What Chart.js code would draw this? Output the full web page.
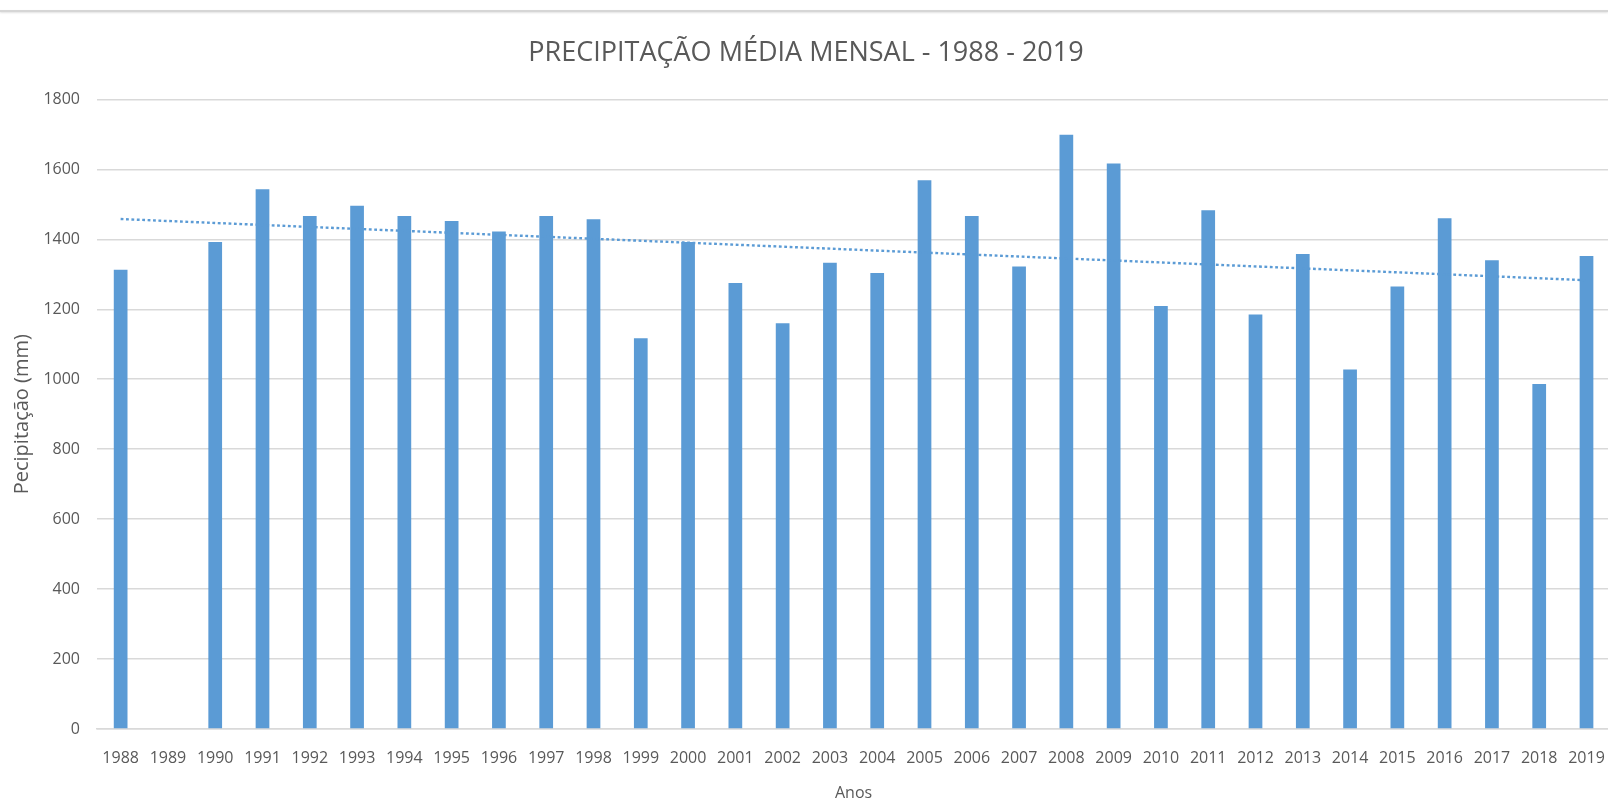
<!DOCTYPE html>
<html>
<head>
<meta charset="utf-8">
<script src="https://cdn.jsdelivr.net/npm/chart.js@4"></script>
<style>
  html, body { margin: 0; padding: 0; background: #ffffff; overflow: hidden; width: 1608px; height: 801px; }
  #wrap { position: absolute; left: 0; top: 0; width: 1625px; height: 801px; }
  #topline { position: absolute; left: 0; top: 10px; width: 1608px; height: 2px; background: #d6d6d6; box-shadow: 0 1px 2px rgba(0,0,0,0.12); z-index: 2; }
</style>
</head>
<body>
<div id="topline"></div>
<div id="wrap"><canvas id="c" width="1625" height="801"></canvas></div>
<script>
const years = ['1988','1989','1990','1991','1992','1993','1994','1995','1996','1997','1998','1999','2000','2001','2002','2003','2004','2005','2006','2007','2008','2009','2010','2011','2012','2013','2014','2015','2016','2017','2018','2019'];
const precipitation = [1313, null, 1392, 1543, 1467, 1496, 1467, 1452, 1422, 1467, 1457, 1117, 1392, 1275, 1160, 1333, 1304, 1569, 1467, 1322, 1699, 1617, 1209, 1483, 1185, 1358, 1028, 1265, 1460, 1340, 986, 1352];
const trendValues = [1458, null, null, null, null, null, null, null, null, null, null, null, null, null, null, null, null, null, null, null, null, null, null, null, null, null, null, null, null, null, null, 1283];
const yTicks = [0, 200, 400, 600, 800, 1000, 1200, 1400, 1600, 1800];
const chartTitle = 'PRECIPITAÇÃO MÉDIA MENSAL - 1988 - 2019';
const yTitle = 'Pecipitação (mm)';
const xTitle = 'Anos';

const textColor = '#595959';
const barColor = '#5B9BD5';
const FONT = "'Open Sans', 'Noto Sans', sans-serif";

new Chart(document.getElementById('c'), {
  type: 'bar',
  data: {
    labels: years,
    datasets: [
      {
        type: 'bar',
        label: 'Precipitação',
        data: precipitation,
        backgroundColor: barColor,
        borderWidth: 0,
        barPercentage: 0.29,
        categoryPercentage: 1.0,
        order: 2
      },
      {
        type: 'line',
        label: 'Tendência',
        data: trendValues,
        spanGaps: true,
        borderColor: barColor,
        borderWidth: 2.4,
        borderDash: [2.8, 2.6],
        pointRadius: 0,
        fill: false,
        tension: 0,
        order: 1
      }
    ]
  },
  options: {
    responsive: false,
    animation: false,
    devicePixelRatio: 1,
    layout: { padding: { left: 0, right: 13, top: 0, bottom: 0 } },
    plugins: {
      legend: { display: false },
      tooltip: { enabled: false },
      title: {
        display: true,
        text: chartTitle,
        color: textColor,
        font: { family: FONT, size: 27, weight: 'normal', lineHeight: 1.2 },
        padding: { top: 37, bottom: 30 }
      }
    },
    scales: {
      x: {
        afterFit: (scale) => { scale.height = 72; },
        grid: { display: false, drawTicks: false },
        border: { display: true, color: '#d9d9d9', width: 1.5 },
        ticks: {
          color: textColor,
          font: { family: FONT, size: 16 },
          padding: 20,
          autoSkip: false,
          maxRotation: 0,
          minRotation: 0
        },
        title: {
          display: true,
          text: xTitle,
          color: textColor,
          font: { family: FONT, size: 16 },
          padding: { top: 15, bottom: -2 }
        }
      },
      y: {
        min: 0,
        max: 1800,
        afterBuildTicks: (scale) => { scale.ticks = yTicks.map(v => ({ value: v })); },
        afterFit: (scale) => { scale.width = 97; },
        grid: { color: '#d9d9d9', lineWidth: 1.5, drawTicks: false },
        border: { display: false },
        ticks: {
          color: textColor,
          font: { family: FONT, size: 16 },
          padding: 17,
          callback: (v) => String(v)
        },
        title: {
          display: true,
          text: yTitle,
          color: textColor,
          font: { family: FONT, size: 20 },
          padding: { top: 10, bottom: 0 }
        }
      }
    }
  }
});
</script>
</body>
</html>
